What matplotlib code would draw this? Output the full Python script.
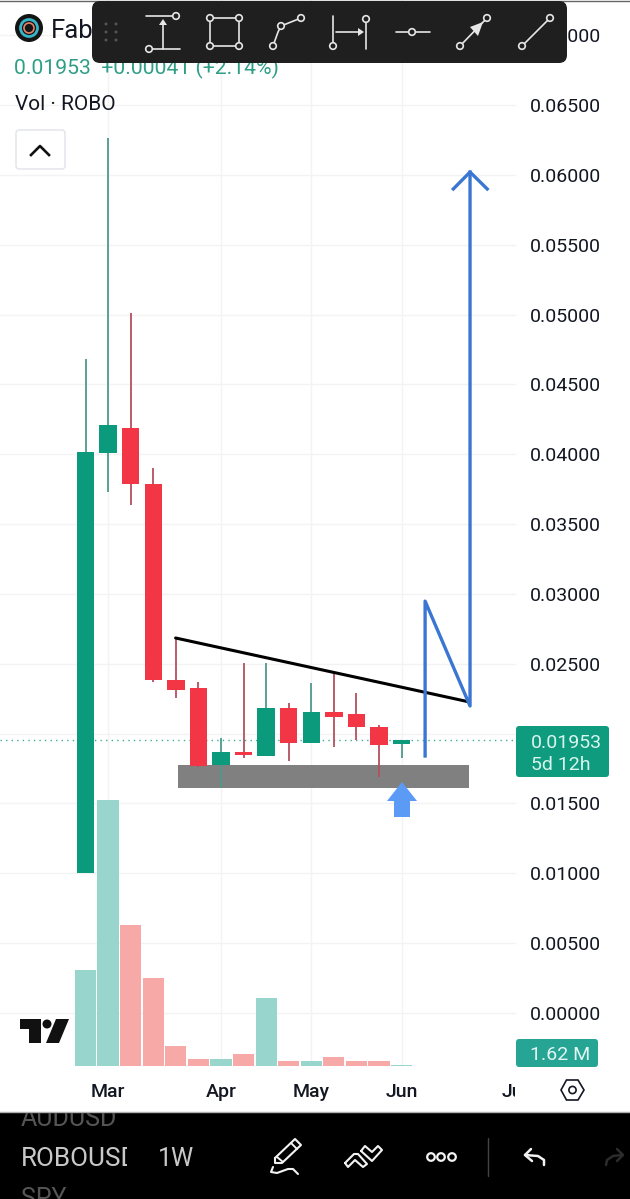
import matplotlib
matplotlib.use("Agg")
import matplotlib.pyplot as plt
from matplotlib.patches import Circle, FancyBboxPatch, Polygon, Rectangle

plt.rcParams["font.family"] = ["Roboto", "DejaVu Sans"]

# weekly candles
opens = [0.01002, 0.04009, 0.04188, 0.03787, 0.02384, 0.02327, 0.01776, 0.01869,
         0.01840, 0.02184, 0.01933, 0.02155, 0.02141, 0.02048, 0.01926]
highs = [0.04682, 0.06265, 0.05012, 0.03902, 0.02685, 0.02370, 0.01969, 0.02506,
         0.02506, 0.02220, 0.02363, 0.02441, 0.02291, 0.02062, 0.01953]
lows = [0.01002, 0.03730, 0.03637, 0.02370, 0.02255, 0.01761, 0.01611, 0.01826,
        0.01840, 0.01804, 0.01933, 0.01905, 0.01955, 0.01690, 0.01826]
closes = [0.04017, 0.04210, 0.03787, 0.02384, 0.02313, 0.01768, 0.01869, 0.01847,
          0.02184, 0.01933, 0.02155, 0.02119, 0.02048, 0.01919, 0.01953]
volumes = [155, 430, 227, 141, 32, 11, 10, 18, 109, 8, 8, 13, 6.5, 8, 1.62]  # millions
vol_up = [True, True, False, False, False, False, True, False, True, False, True,
          False, False, False, True]

price_ticks = [0.0, 0.005, 0.01, 0.015, 0.02, 0.025, 0.03, 0.035, 0.04, 0.045,
               0.05, 0.055, 0.06, 0.065, 0.07]
tick_labels = ["0.00000", "0.00500", "0.01000", "0.01500", None, "0.02500", "0.03000",
               "0.03500", "0.04000", "0.04500", "0.05000", "0.05500", "0.06000",
               "0.06500", "0.07000"]
month_pos = [1, 6, 10, 14, 19]
month_labels = ["Mar", "Apr", "May", "Jun", "Jul"]

# user drawings, in candle index / price
trend_x = [3.99, 17.0]
trend_y = [0.02685, 0.02227]
zigzag_x = [15.04, 15.04, 17.03, 17.03]
zigzag_y = [0.01840, 0.02949, 0.02198, 0.06021]
head_x = [16.29, 17.03, 17.79]
head_y = [0.05900, 0.06021, 0.05900]
zone_x = [4.09, 17.0]
zone_y = [0.01611, 0.01776]
last_price = 0.01953

GREEN = "#0b9a7c"
RED = "#f23645"
W, H = 630, 1199
PX_X = 22.58       # px per candle
X0 = 85.5          # px of candle 0
PX_P = 13967.0     # px per unit of price
Y0 = 1013.0        # px of price 0
VOL_BASE = 1065.5
PX_V = 1 / 1.62    # px per million
MID = "center_baseline"

fig = plt.figure(figsize=(W / 100, H / 100), dpi=100, facecolor="white")

xlim = (-X0 / PX_X, (W - X0) / PX_X)
ylim = ((Y0 - H) / PX_P, Y0 / PX_P)

# grid goes under the volume bars
gax = fig.add_axes([0, 0, 1, 1], zorder=0)
gax.set_xlim(*xlim)
gax.set_ylim(*ylim)
gax.axis("off")
grid_right = 515 / W
for t in price_ticks:
    gax.axhline(t, xmin=0, xmax=grid_right, color="#f3f3f3", lw=1)
for m in month_pos[:-1]:
    gax.axvline(m, ymin=(H - 1065) / H, ymax=1, color="#f3f3f3", lw=1)

vax = fig.add_axes([0, 0, 1, 1], zorder=1)
vax.set_xlim(*xlim)
vax.set_ylim((VOL_BASE - H) / PX_V, VOL_BASE / PX_V)
vax.axis("off")
vax.bar(range(len(volumes)), volumes, width=0.94,
        color=["#98d5cd" if u else "#f7a9a7" for u in vol_up])

# price panel
ax = fig.add_axes([0, 0, 1, 1], zorder=2)
ax.set_xlim(*xlim)
ax.set_ylim(*ylim)
ax.axis("off")

for t, lab in zip(price_ticks, tick_labels):
    if lab:
        ax.text(601 / W, t, lab, transform=ax.get_yaxis_transform(), ha="right",
                va=MID, fontsize=14, color="#131722")
ax.axhline(last_price, xmin=0, xmax=grid_right, color=GREEN, lw=1, ls=(0, (1, 3)),
           alpha=0.8, zorder=1)

ax.fill_between(zone_x, zone_y[0], zone_y[1], color="#808080", lw=0, zorder=2)

for i in range(len(opens)):
    c = GREEN if closes[i] >= opens[i] else RED
    wick = "#4f9a8b" if c == GREEN else "#b4505f"
    ax.vlines(i, lows[i], highs[i], color=wick, lw=1.3, zorder=3)
    ax.bar(i, abs(closes[i] - opens[i]), bottom=min(opens[i], closes[i]), width=0.77,
           color=c, zorder=4)

ax.plot(trend_x, trend_y, color="#000000", lw=2.2, zorder=5, solid_capstyle="round")
ax.plot(zigzag_x, zigzag_y, color="#3a76d2", lw=2.4, zorder=6, solid_joinstyle="round")
ax.plot(head_x, head_y, color="#3a76d2", lw=2.4, zorder=6)

# app chrome, in screen pixels
ui = fig.add_axes([0, 0, 1, 1], zorder=3)
ui.set_xlim(0, W)
ui.set_ylim(H, 0)
ui.axis("off")

# blue marker arrow
ui.add_patch(Polygon([(402, 782), (417, 801), (410, 801), (410, 817), (394, 817),
                      (394, 801), (387, 801)], color="#5b9bf5", lw=0))

# legend
ui.add_patch(Circle((29, 28), 14, color="#141414", lw=0))
ui.add_patch(Circle((29, 28), 8.5, fill=False, ec="#35b6c8", lw=2))
ui.add_patch(Circle((29, 28), 5, fill=False, ec="#e87f6b", lw=1.2))
ui.text(51, 28, "Fab", fontsize=18.5, color="#131722", va=MID)
ui.text(14, 66, "0.01953  +0.00041 (+2.14%)", fontsize=15.25, color="#2f9e86", va=MID)
ui.text(15, 102, "Vol · ROBO", fontsize=15, color="#131722", va=MID)
ui.add_patch(FancyBboxPatch((16, 130), 49, 39, boxstyle="round,pad=0,rounding_size=3",
                            fc="white", ec="#e0e3eb", lw=1))
ui.plot([31, 40, 49], [155, 146, 155], color="#111111", lw=1.9)

# toolbar
ui.plot([0, W], [0.5, 0.5], color="#666666", lw=1)
ui.add_patch(FancyBboxPatch((92, 1), 475, 62, boxstyle="round,pad=0,rounding_size=8",
                            fc="#1f1f1f", ec="none", zorder=4))
TB = "#e6e6e6"


def seg(xs, ys, color=TB, lw=1.2, z=4.5):
    ui.plot(xs, ys, color=color, lw=lw, solid_capstyle="round", solid_joinstyle="round",
            zorder=z)


def knob(x, y, r=3.3):
    ui.add_patch(Circle((x, y), r, fc="#1f1f1f", ec=TB, lw=1.2, zorder=5))


for dx in (106, 116):
    for dy in (24, 32, 40):
        ui.add_patch(Circle((dx, dy), 1.5, color="#555555", lw=0, zorder=4.5))
seg([146, 173], [16, 16])
seg([153, 180], [49, 49])
seg([163, 163], [49, 22])
ui.add_patch(Polygon([(163, 19), (159, 25), (167, 25)], color=TB, lw=0, zorder=4.5))
knob(176, 16)
knob(149, 49)
seg([210, 239, 239, 210, 210], [18, 18, 46, 46, 18])
for kx, ky in [(210, 18), (239, 18), (210, 46), (239, 46)]:
    knob(kx, ky)
seg([273, 278, 281, 301], [46, 32, 26, 18])
for kx, ky in [(273, 46), (281, 26), (301, 18)]:
    knob(kx, ky)
seg([333, 333], [16, 46])
seg([366, 366], [19, 49])
seg([336, 360], [32, 32])
ui.add_patch(Polygon([(364, 32), (358, 28), (358, 36)], color=TB, lw=0, zorder=4.5))
knob(333, 46)
knob(366, 19)
seg([396, 430], [32, 32])
knob(412, 32)
seg([460, 487], [46, 18])
ui.add_patch(Polygon([(483, 22), (470, 27), (478, 36)], color=TB, lw=0, zorder=4.5))
knob(460, 46)
knob(487, 18)
seg([522, 550], [46, 18])
knob(522, 46)
knob(550, 18)

# tradingview mark
ui.add_patch(Polygon([(20, 1019), (41, 1019), (41, 1043), (29, 1043), (29, 1029), (20, 1029)],
                     color="#111111", lw=0))
ui.add_patch(Circle((47, 1024), 4.5, color="#111111", lw=0))
ui.add_patch(Polygon([(56, 1019), (69, 1019), (59, 1043), (46, 1043)], color="#111111", lw=0))

# price tags
ui.add_patch(FancyBboxPatch((516, 726), 93, 51, boxstyle="round,pad=0,rounding_size=3",
                            fc="#0f9b7e", ec="none"))
ui.text(531, 741, "0.01953", fontsize=14, color="#d9f5ee", va=MID)
ui.text(531, 763, "5d 12h", fontsize=14, color="#d9f5ee", va=MID)
ui.add_patch(FancyBboxPatch((516, 1039), 82, 28, boxstyle="round,pad=0,rounding_size=3",
                            fc="#27a594", ec="none"))
ui.text(530, 1053, "1.62 M", fontsize=14, color="#e3f5f2", va=MID)

# time axis, last label is cut by the price scale
time_clip = Rectangle((0, 1070), 515, 40, fill=False, lw=0)
ui.add_patch(time_clip)
for m, lab in zip(month_pos, month_labels):
    tx = ui.text(X0 + m * PX_X, 1090, lab, fontsize=14, fontweight="medium", color="#131722",
                 ha="center", va=MID)
    tx.set_clip_path(time_clip)
    tx.set_clip_on(True)
ui.add_patch(Polygon([(561, 1090), (566.5, 1080), (578, 1080), (584, 1090), (578, 1100),
                      (566.5, 1100)], fc="white", ec="#131722", lw=1.2))
ui.add_patch(Circle((572.5, 1090), 3.6, fc="white", ec="#131722", lw=1.2))

# bottom bar
bar = Rectangle((0, 1113), W, H - 1113, color="#000000", lw=0)
ui.add_patch(bar)
ui.plot([0, W], [1112, 1112], color="#b0b0b0", lw=1)
t = ui.text(21, 1116, "AUDUSD", fontsize=18, color="#555555", va=MID)
t.set_clip_path(bar)
t.set_clip_on(True)
sym_clip = Rectangle((0, 1135), 127, 44, fill=False, lw=0)
ui.add_patch(sym_clip)
t = ui.text(21, 1157, "ROBOUSD", fontsize=18.8, color="#c8c8c8", va=MID)
t.set_clip_path(sym_clip)
t.set_clip_on(True)
ui.text(158, 1157, "1W", fontsize=18, color="#c8c8c8", va=MID)
ui.text(21, 1196, "SPY", fontsize=18, color="#555555", va=MID)

WH = "#f2f2f2"
# pen
seg([275, 295, 301, 282, 275, 275], [1158, 1139, 1145, 1163, 1163, 1158], WH, 1.5)
seg([291, 297], [1143, 1149], WH, 1.4)
seg([277, 283], [1157, 1162], WH, 1.4)
seg([273, 271, 277, 288, 293, 298], [1167, 1172, 1173, 1169, 1169, 1174], WH, 1.5)
# chevrons
seg([345, 354, 358, 367, 363, 355, 348, 345], [1163, 1154, 1154, 1164, 1167, 1160, 1167, 1163], WH, 1.5)
seg([361, 372, 382, 378, 372, 365, 361], [1151, 1161, 1150, 1146, 1152, 1146, 1151], WH, 1.5)
# more
for mx in (431, 441, 452):
    ui.add_patch(Circle((mx, 1157), 3.8, fc="black", ec=WH, lw=1.6))
seg([488, 488], [1138, 1176], "#444444", 1)
# undo / redo
seg([531, 525, 532], [1149, 1155, 1161], WH, 1.8)
seg([525, 538, 544, 544], [1155, 1156, 1160, 1165], WH, 1.8)
seg([606, 607, 613, 622], [1165, 1160, 1156, 1155], "#2c2c2c", 1.8)
seg([617, 623, 617], [1149, 1155, 1161], "#2c2c2c", 1.8)

fig.savefig("out.png", dpi=100)
